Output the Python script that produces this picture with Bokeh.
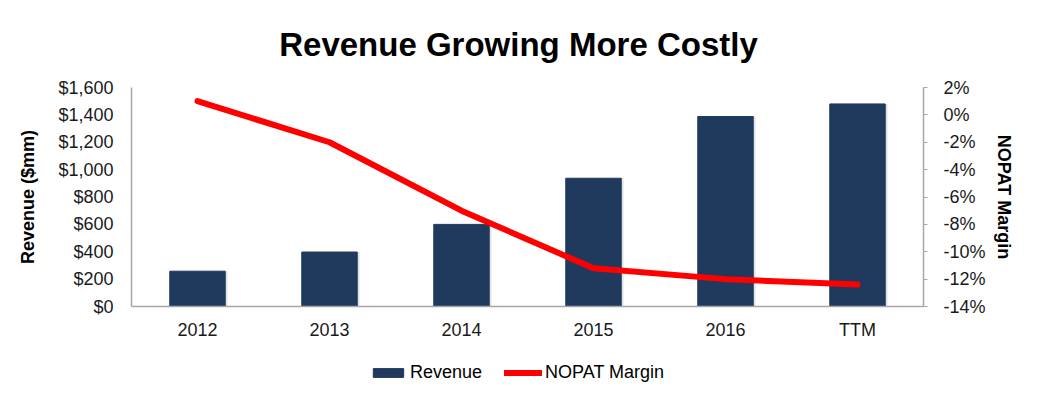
from bokeh.plotting import figure
from bokeh.layouts import column
from bokeh.models import (Range1d, FactorRange, LinearAxis, FixedTicker, Label,
                          NumeralTickFormatter, PrintfTickFormatter, Legend, LegendItem,
                          ColumnDataSource)
from bokeh.transform import dodge
from bokeh.embed import file_html
from bokeh.resources import INLINE

title_text = "Revenue Growing More Costly"
categories = ["2012", "2013", "2014", "2015", "2016", "TTM"]
revenue = [258, 398, 600, 937, 1388, 1480]          # $mm
nopat_margin = [1.0, -2.0, -7.0, -11.2, -12.0, -12.4]  # %
left_ticks = [0, 200, 400, 600, 800, 1000, 1200, 1400, 1600]
right_ticks = [-14, -12, -10, -8, -6, -4, -2, 0, 2]

FONT = "Liberation Sans"
BAR = "#1F3A5C"
RED = "#FF0000"
GREY = "#A6A6A6"
W = 1025
BL, BR = 131, 102   # frame borders (left/right)


def clean(fig):
    fig.outline_line_color = None
    fig.xgrid.grid_line_color = None
    fig.ygrid.grid_line_color = None
    fig.background_fill_color = "white"
    fig.border_fill_color = "white"


# ---- title strip ----
t = figure(width=W, height=75, output_backend="svg", toolbar_location=None, title=None,
           x_range=Range1d(BL, W - BR), y_range=Range1d(0, 75),
           x_axis_location=None, y_axis_location=None,
           min_border_left=BL, min_border_right=BR, min_border_top=0, min_border_bottom=0)
clean(t)
t.add_layout(Label(x=518, y=31, text=title_text, text_font=FONT, text_font_size="33px",
                   text_font_style="bold", text_color="#000000", text_align="center",
                   text_baseline="alphabetic"))

# ---- main chart ----
src = ColumnDataSource(dict(cat=categories, rev=revenue, margin=nopat_margin))
x_range = FactorRange(*categories)

p = figure(width=W, height=271, output_backend="svg", toolbar_location=None, title=None,
           x_range=x_range, y_range=Range1d(0, 1600), y_axis_location=None,
           min_border_left=BL, min_border_right=BR, min_border_top=12, min_border_bottom=40)
p.extra_y_ranges = {"m": Range1d(-14, 2)}
clean(p)

# shadow + bars
p.vbar(x=dodge("cat", 0.018, range=x_range), top="rev", width=0.42, source=src,
       fill_color="#E3E3E3", line_color=None)
bars = p.vbar(x="cat", top="rev", width=0.42, source=src, fill_color=BAR, line_color=BAR)
line = p.line(x="cat", y="margin", source=src, y_range_name="m", line_color=RED,
              line_width=6, line_cap="round", line_join="round")

# x axis
xa = p.xaxis[0]
xa.axis_line_color = GREY
xa.axis_line_width = 1.5
xa.major_tick_line_color = None
xa.major_tick_out = 0
xa.major_tick_in = 0
xa.minor_tick_line_color = None
xa.major_label_text_font = FONT
xa.major_label_text_font_size = "18px"
xa.major_label_text_color = "#1a1a1a"
xa.major_label_standoff = 13

# left axis
ya = LinearAxis(ticker=FixedTicker(ticks=left_ticks), formatter=NumeralTickFormatter(format="$0,0"))
ya.axis_line_color = GREY
ya.axis_line_width = 1.5
ya.major_tick_line_color = None
ya.major_tick_out = 0
ya.minor_tick_line_color = None
ya.major_label_text_font = FONT
ya.major_label_text_font_size = "18px"
ya.major_label_text_color = "#1a1a1a"
ya.major_label_standoff = 18
ya.axis_label = "Revenue ($mm)"
ya.axis_label_text_font = FONT
ya.axis_label_text_font_size = "18px"
ya.axis_label_text_font_style = "bold"
ya.axis_label_text_color = "#000000"
ya.axis_label_standoff = 17
p.add_layout(ya, "left")

# right axis
ra = LinearAxis(y_range_name="m", ticker=FixedTicker(ticks=right_ticks),
                formatter=PrintfTickFormatter(format="%d%%"))
ra.axis_line_color = GREY
ra.axis_line_width = 1.5
ra.major_tick_line_color = GREY
ra.major_tick_out = 4
ra.major_tick_in = 0
ra.minor_tick_line_color = None
ra.major_label_text_font = FONT
ra.major_label_text_font_size = "18px"
ra.major_label_text_color = "#1a1a1a"
ra.major_label_standoff = 16
ra.axis_label = "NOPAT Margin"
ra.axis_label_text_font = FONT
ra.axis_label_text_font_size = "18px"
ra.axis_label_text_font_style = "bold"
ra.axis_label_text_color = "#000000"
ra.axis_label_standoff = 5
p.add_layout(ra, "right")

# ---- legend strip ----
q = figure(width=W, height=43, output_backend="svg", toolbar_location=None, title=None,
           x_range=x_range, y_range=Range1d(0, 1), x_axis_location=None, y_axis_location=None,
           min_border_left=BL, min_border_right=BR, min_border_top=0, min_border_bottom=0)
clean(q)
q_bars = q.vbar(x="cat", top="rev", width=0.42, source=src, fill_color=BAR, line_color=BAR,
                visible=False)
q_line = q.line(x="cat", y="margin", source=src, line_color=RED, line_width=6,
                line_cap="round", visible=False)

legend = Legend(items=[LegendItem(label="Revenue", renderers=[q_bars]),
                       LegendItem(label="NOPAT Margin", renderers=[q_line])],
                orientation="horizontal", location=(238, 6))
legend.label_text_font = FONT
legend.label_text_font_size = "18px"
legend.label_text_color = "#000000"
legend.label_height = 18
legend.glyph_width = 38
legend.glyph_height = 11
legend.label_standoff = 3
legend.spacing = 22
legend.padding = 3
legend.margin = 0
legend.border_line_color = None
legend.background_fill_alpha = 0
legend.inactive_fill_alpha = 0
q.add_layout(legend, "center")

open("out.html", "w").write(file_html(column(t, p, q, spacing=0), INLINE))
